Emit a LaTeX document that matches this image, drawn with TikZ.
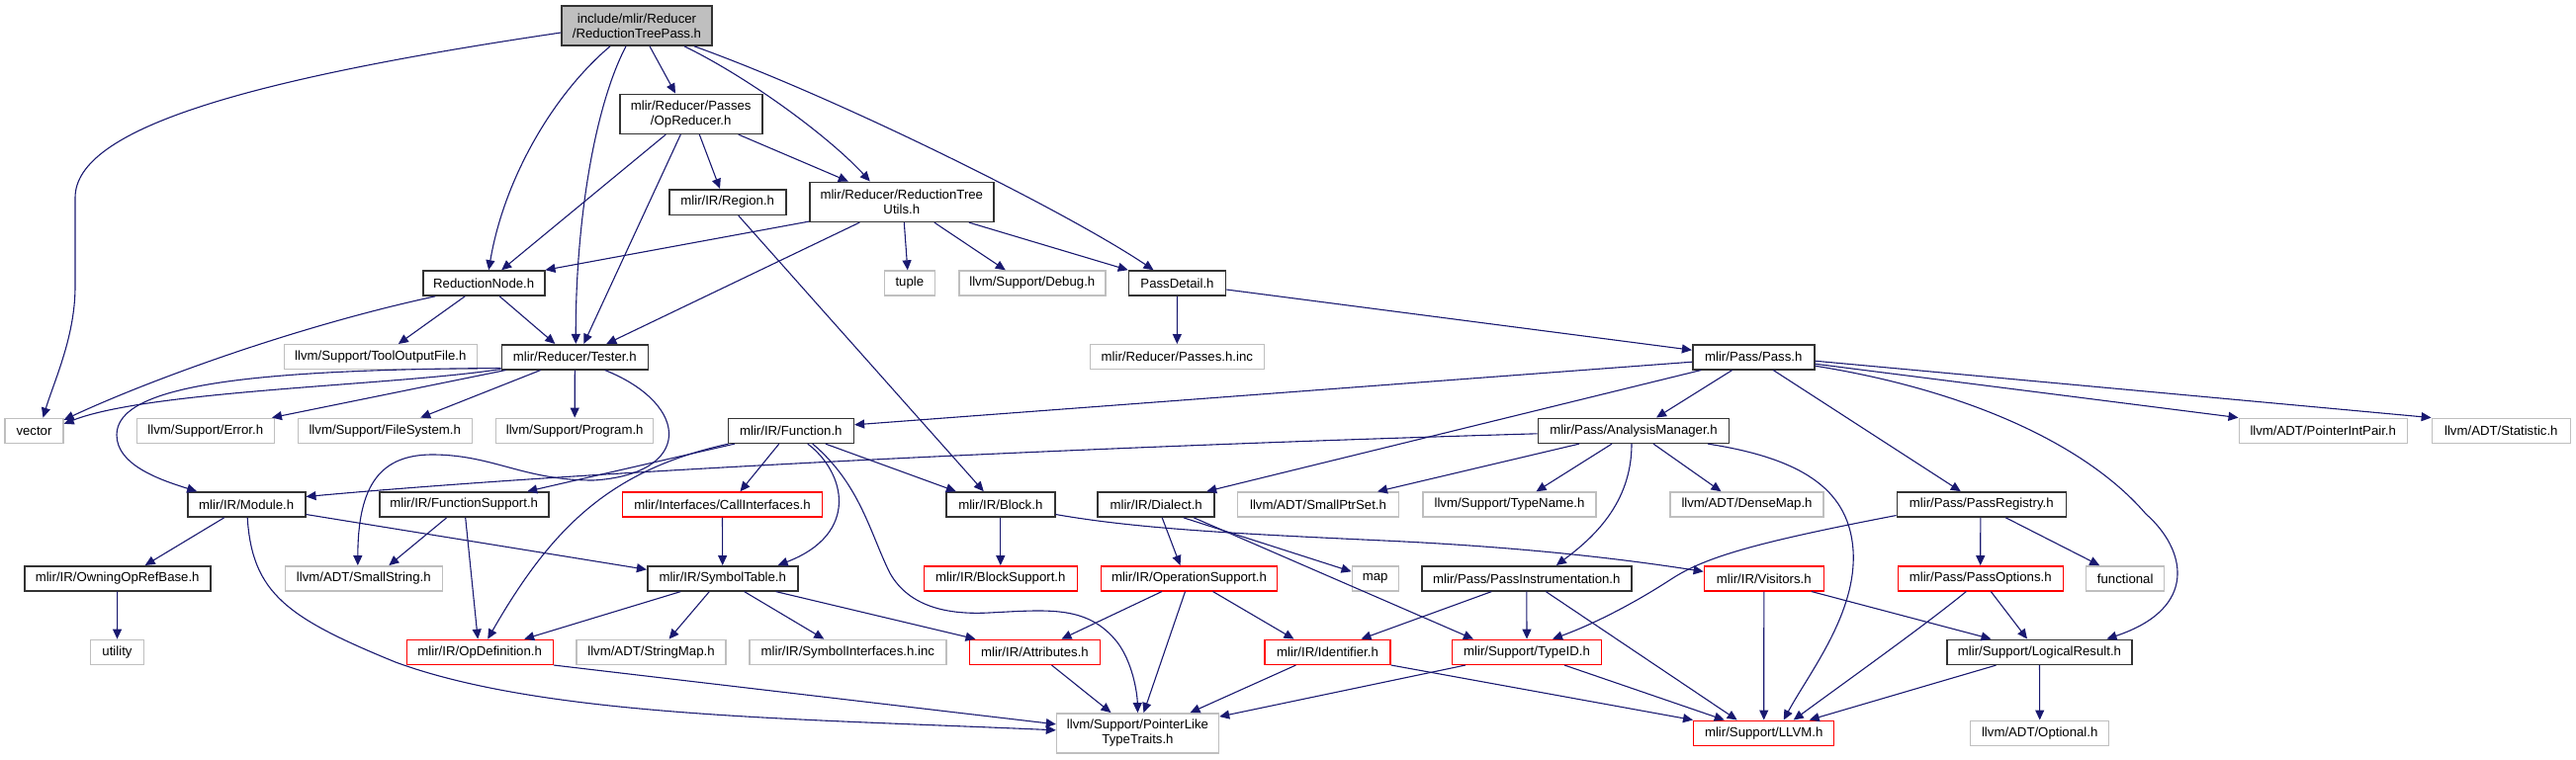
\documentclass[tikz,border=0pt]{standalone}
\usepackage{fontspec}
\setmainfont{Liberation Sans}
\usetikzlibrary{arrows.meta,calc}
\newcommand\dxfont{\fontsize{6.6}{7.5}\selectfont}
\definecolor{edgeblue}{RGB}{25,25,112}
\definecolor{boxgray}{RGB}{191,191,191}
\definecolor{rootgray}{RGB}{191,191,191}
\definecolor{boxred}{RGB}{255,0,0}
\tikzset{
  box/.style={draw, rectangle, inner sep=0pt, minimum height=12.5pt, font=\dxfont, text=black, fill=white},
  nb/.style={box, draw=black!80, line width=0.8pt},
  ng/.style={box, draw=boxgray, line width=0.7pt},
  nr/.style={box, draw=boxred, line width=0.7pt},
  nroot/.style={box, draw=black!80, line width=0.8pt, fill=rootgray},
  twol/.style={minimum height=20pt, align=center},
  wd/.style={minimum width=#1*0.5pt},
  ht/.style={minimum height=#1*0.5pt},
  dep/.style={draw=edgeblue, line width=0.55pt, -{Triangle[length=5pt,width=4.5pt]}}
}
\begin{document}
\begin{tikzpicture}[x=0.5pt,y=-0.5pt]
\useasboundingbox (0,0) rectangle (2605,768);
% nodes
\node[nroot,wd=152,twol] (root) at (644,26) {include/mlir/Reducer\\/ReductionTreePass.h};
\node[nb,wd=144,twol] (opred) at (698.7,115.3) {mlir/Reducer/Passes\\/OpReducer.h};
\node[nb,wd=118,ht=25.6] (region) at (735.7,204.5) {mlir/IR/Region.h};
\node[nb,wd=186,twol] (rtu) at (911.8,204.3) {mlir/Reducer/ReductionTree\\Utils.h};
\node[nb,wd=123] (rnode) at (489.2,286.5) {ReductionNode.h};
\node[nb,wd=148] (tester) at (581.3,361.2) {mlir/Reducer/Tester.h};
\node[ng,wd=195] (tof) at (384.8,361.2) {llvm/Support/ToolOutputFile.h};
\node[ng,wd=51] (tuple) at (919.8,286.5) {tuple};
\node[ng,wd=148] (debug) at (1043.8,286.5) {llvm/Support/Debug.h};
\node[nb,wd=98] (pdetail) at (1190.5,286.5) {PassDetail.h};
\node[ng,wd=176] (pinc) at (1190.3,361.2) {mlir/Reducer/Passes.h.inc};
\node[nb,wd=123] (pass) at (1773.2,361.2) {mlir/Pass/Pass.h};
\node[ng,wd=170] (pip) at (2349.2,435.8) {llvm/ADT/PointerIntPair.h};
\node[ng,wd=140] (stat) at (2529.3,435.8) {llvm/ADT/Statistic.h};
\node[ng,wd=59] (vector) at (34.5,435.8) {vector};
\node[ng,wd=139] (error) at (207.8,435.8) {llvm/Support/Error.h};
\node[ng,wd=176] (fs) at (389.2,435.8) {llvm/Support/FileSystem.h};
\node[ng,wd=159] (program) at (581.2,435.8) {llvm/Support/Program.h};
\node[nb,wd=127] (func) at (799.8,435.8) {mlir/IR/Function.h};
\node[nb,wd=193] (am) at (1652,435.8) {mlir/Pass/AnalysisManager.h};
\node[nb,wd=119] (module) at (249.2,510.5) {mlir/IR/Module.h};
\node[nb,wd=171] (fsup) at (469.2,510.5) {mlir/IR/FunctionSupport.h};
\node[nr,wd=202] (calli) at (730.5,510.5) {mlir/Interfaces/CallInterfaces.h};
\node[nb,wd=110] (block) at (1011.8,510.5) {mlir/IR/Block.h};
\node[nb,wd=118] (dialect) at (1169.2,510.5) {mlir/IR/Dialect.h};
\node[ng,wd=163] (sps) at (1333,510.5) {llvm/ADT/SmallPtrSet.h};
\node[ng,wd=175] (tname) at (1526.5,510.5) {llvm/Support/TypeName.h};
\node[ng,wd=155] (dmap) at (1766.5,510.5) {llvm/ADT/DenseMap.h};
\node[nb,wd=171] (preg) at (2003.8,510.5) {mlir/Pass/PassRegistry.h};
\node[nb,wd=188] (oorb) at (118.7,585.3) {mlir/IR/OwningOpRefBase.h};
\node[ng,wd=159] (sstr) at (367.8,585.3) {llvm/ADT/SmallString.h};
\node[nb,wd=152] (symt) at (730.7,585.3) {mlir/IR/SymbolTable.h};
\node[nr,wd=155] (bsup) at (1011.8,585.3) {mlir/IR/BlockSupport.h};
\node[nr,wd=178] (opsup) at (1202.5,585.3) {mlir/IR/OperationSupport.h};
\node[ng,wd=47] (map) at (1390.7,585.3) {map};
\node[nb,wd=212] (pinst) at (1543.8,585.3) {mlir/Pass/PassInstrumentation.h};
\node[nr,wd=121] (visit) at (1783.8,585.3) {mlir/IR/Visitors.h};
\node[nr,wd=167] (popt) at (2002.7,585.3) {mlir/Pass/PassOptions.h};
\node[ng,wd=79] (functional) at (2149.2,585.3) {functional};
\node[ng,wd=54] (utility) at (118.5,659.8) {utility};
\node[nr,wd=148] (opdef) at (485.2,659.8) {mlir/IR/OpDefinition.h};
\node[ng,wd=151] (smap) at (658.5,659.8) {llvm/ADT/StringMap.h};
\node[ng,wd=199] (syminc) at (857.3,659.8) {mlir/IR/SymbolInterfaces.h.inc};
\node[nr,wd=132] (attr) at (1046.5,659.8) {mlir/IR/Attributes.h};
\node[nr,wd=127] (ident) at (1342.5,659.8) {mlir/IR/Identifier.h};
\node[nr,wd=151] (typeid) at (1544,659.8) {mlir/Support/TypeID.h};
\node[nb,wd=187] (lres) at (2062.5,659.8) {mlir/Support/LogicalResult.h};
\node[ng,wd=164,twol] (pltt) at (1150.5,741.8) {llvm/Support/PointerLike\\TypeTraits.h};
\node[nr,wd=142] (llvm) at (1783.7,741.7) {mlir/Support/LLVM.h};
\node[ng,wd=140] (optional) at (2062.7,741.7) {llvm/ADT/Optional.h};
% root
\draw[dep] ($(root.west)+(0,7)$) .. controls (250,80) and (76,130) .. (76,200) -- (76,290) .. controls (76,340) and (55,385) .. ($(vector.north)+(9,0)$);
\draw[dep] ($(root.south)+(-27,0)$) .. controls (560,95) and (510,180) .. ($(rnode.north)+(5,0)$);
\draw[dep] ($(root.south)+(-11,0)$) .. controls (600,110) and (582,230) .. ($(tester.north)+(1,0)$);
\draw[dep] ($(root.south)+(13,0)$) -- ($(opred.north)+(-15.7,0)$);
\draw[dep] ($(root.south)+(48,0)$) .. controls (760,80) and (840,140) .. ($(rtu.north)+(-32,0)$);
\draw[dep] ($(root.south)+(58,0)$) .. controls (850,100) and (1080,215) .. ($(pdetail.north)+(-24,0)$);
% opreducer
\draw[dep] ($(opred.south)+(-25.4,0)$) -- ($(rnode.north)+(18,0)$);
\draw[dep] ($(opred.south)+(-10.4,0)$) -- ($(tester.north)+(9,0)$);
\draw[dep] ($(opred.south)+(8.6,0)$) -- ($(region.north)+(-7.7,0)$);
\draw[dep] ($(opred.south)+(48,0)$) -- ($(rtu.north)+(-54,0)$);
% reduction tree utils
\draw[dep] ($(rtu.south west)+(0,-1)$) -- (rnode.north east);
\draw[dep] ($(rtu.south)+(-42.5,0)$) -- ($(tester.north)+(32,0)$);
\draw[dep] ($(rtu.south)+(2.5,0)$) -- ($(tuple.north)+(-2,0)$);
\draw[dep] ($(rtu.south)+(33,0)$) -- ($(debug.north)+(-27,0)$);
\draw[dep] ($(rtu.south)+(68,0)$) -- (pdetail.north west);
% region
\draw[dep] ($(region.south)+(11,0)$) -- ($(block.north)+(-17,0)$);
% reduction node
\draw[dep] ($(rnode.south)+(-49,0)$) .. controls (300,330) and (150,385) .. ($(vector.east)+(0,-11)$);
\draw[dep] ($(rnode.south)+(-19,0)$) -- ($(tof.north)+(18,0)$);
\draw[dep] ($(rnode.south)+(16,0)$) -- ($(tester.north)+(-20,0)$);
% tester
\draw[dep] ($(tester.south west)+(0,-2)$) .. controls (250,374) and (118,390) .. (118,440) .. controls (118,470) and (160,485) .. ($(module.north)+(-50,0)$);
\draw[dep] ($(tester.south west)+(0,-1)$) .. controls (400,390) and (150,395) .. ($(vector.east)+(0,-7)$);
\draw[dep] ($(tester.south west)+(5,0)$) -- ($(error.north east)+(-3,0)$);
\draw[dep] ($(tester.south)+(-34.6,0)$) -- ($(fs.north)+(36,0)$);
\draw[dep] (tester.south) -- (program.north);
\draw[dep] ($(tester.south)+(30.4,0)$) .. controls (700,410) and (700,480) .. (600,486) .. controls (530,486) and (500,461) .. (440,460) .. controls (385,459) and (362,490) .. ($(sstr.north)+(-6,0)$);
% function
\draw[dep] ($(func.south)+(-57,0)$) -- ($(fsup.north)+(64,0)$);
\draw[dep] ($(func.south west)+(1,0)$) .. controls (620,475) and (560,530) .. ($(opdef.north)+(8,0)$);
\draw[dep] ($(func.south)+(-12,0)$) -- ($(calli.north)+(18,0)$);
\draw[dep] ($(func.south)+(17,0)$) .. controls (855,478) and (870,540) .. ($(symt.north)+(56,0)$);
\draw[dep] ($(func.south)+(35,0)$) -- ($(block.north)+(-45,0)$);
\draw[dep] ($(func.south)+(22,0)$) .. controls (870,490) and (880,540) .. (900,580) .. controls (920,615) and (960,622) .. (1000,620) .. controls (1060,617) and (1100,612) .. (1130,650) .. controls (1145,670) and (1150,700) .. (pltt.north);
% pass
\draw[dep] ($(pass.west)+(0,5)$) -- ($(func.east)+(0,-6)$);
\draw[dep] ($(pass.south)+(-53,0)$) -- ($(dialect.north)+(51,0)$);
\draw[dep] ($(pass.south)+(-21.5,0)$) -- ($(am.north)+(23,0)$);
\draw[dep] ($(pass.south)+(20,0)$) -- ($(preg.north)+(-21,0)$);
\draw[dep] ($(pass.east)+(0,9)$) .. controls (1990,395) and (2110,450) .. (2170,520) .. controls (2210,555) and (2225,615) .. ($(lres.north)+(68,0)$);
\draw[dep] ($(pass.east)+(0,7)$) -- (pip.north west);
\draw[dep] ($(pass.east)+(0,4)$) -- (stat.north west);
% pass detail
\draw[dep] (pdetail.south) -- (pinc.north);
\draw[dep] ($(pdetail.east)+(0,6.5)$) -- ($(pass.west)+(0,-7)$);
% analysis manager
\draw[dep] ($(am.west)+(0,3)$) .. controls (1100,452) and (600,476) .. ($(module.east)+(0,-8)$);
\draw[dep] ($(am.south)+(-55,0)$) -- ($(sps.north)+(60,0)$);
\draw[dep] ($(am.south)+(-22,0)$) -- ($(tname.north)+(27,0)$);
\draw[dep] ($(am.south)+(-2,0)$) .. controls (1650,510) and (1610,545) .. ($(pinst.north)+(30,0)$);
\draw[dep] ($(am.south)+(20,0)$) -- ($(dmap.north)+(-26,0)$);
\draw[dep] ($(am.south)+(75,0)$) .. controls (1830,465) and (1870,500) .. (1874,556.7) .. controls (1878,620) and (1830,680) .. ($(llvm.north)+(20,0)$);
% dialect
\draw[dep] ($(dialect.south)+(6,0)$) -- ($(opsup.north)+(-9,0)$);
\draw[dep] ($(dialect.south)+(27.5,0)$) -- ($(map.west)+(0,-7)$);
\draw[dep] ($(dialect.south)+(38,0)$) -- ($(typeid.north)+(-54,0)$);
% block
\draw[dep] ($(block.east)+(0,10)$) .. controls (1150,535) and (1250,540) .. (1400,547) .. controls (1550,554) and (1650,567) .. ($(visit.west)+(0,-7)$);
\draw[dep] (block.south) -- (bsup.north);
% operation support
\draw[dep] ($(opsup.south)+(-27.5,0)$) -- ($(attr.north)+(27,0)$);
\draw[dep] ($(opsup.south)+(-4,0)$) -- ($(pltt.north)+(6,0)$);
\draw[dep] ($(opsup.south)+(24,0)$) -- ($(ident.north)+(-34,0)$);
% attributes, identifier, typeid
\draw[dep] ($(attr.south)+(17,0)$) -- ($(pltt.north)+(-27,0)$);
\draw[dep] ($(ident.south)+(-32,0)$) -- ($(pltt.north)+(53,0)$);
\draw[dep] ($(typeid.south)+(-62,0)$) -- ($(pltt.north east)+(0,4)$);
\draw[dep] (ident.south east) -- (llvm.north west);
\draw[dep] ($(typeid.south)+(38,0)$) -- ($(llvm.north)+(-40,0)$);
% pass instrumentation
\draw[dep] ($(pinst.south)+(-35.5,0)$) -- ($(ident.north)+(34,0)$);
\draw[dep] (pinst.south) -- (typeid.north);
\draw[dep] ($(pinst.south)+(19.5,0)$) -- ($(llvm.north)+(-27,0)$);
% pass registry
\draw[dep] ($(preg.west)+(0,11)$) .. controls (1780,548) and (1725,563) .. (1690,586) .. controls (1650,612) and (1610,632) .. ($(typeid.north)+(26,0)$);
\draw[dep] ($(preg.south)+(-1,0)$) -- (popt.north);
\draw[dep] ($(preg.south)+(24.5,0)$) -- ($(functional.north)+(-26,0)$);
% visitors
\draw[dep] (visit.south) -- (llvm.north);
\draw[dep] ($(visit.south)+(48,0)$) -- ($(lres.north)+(-49,0)$);
% pass options
\draw[dep] ($(popt.south)+(-14.4,0)$) .. controls (1950,630) and (1880,680) .. ($(llvm.north)+(30,0)$);
\draw[dep] ($(popt.south)+(10.6,0)$) -- ($(lres.north)+(-12.5,0)$);
% logical result
\draw[dep] ($(lres.south)+(-44,0)$) -- ($(llvm.north)+(46,0)$);
\draw[dep] (lres.south) -- (optional.north);
% module
\draw[dep] ($(module.south)+(-22.5,0)$) -- ($(oorb.north)+(28,0)$);
\draw[dep] ($(module.east)+(0,10)$) -- ($(symt.west)+(0,-9)$);
\draw[dep] ($(module.south)+(1,0)$) .. controls (255,600) and (290,625) .. (400,670) .. controls (550,725) and (800,727) .. ($(pltt.west)+(0,-3)$);
% op definition
\draw[dep] (opdef.south east) -- ($(pltt.west)+(0,-9)$);
% owning op ref base
\draw[dep] (oorb.south) -- (utility.north);
% function support
\draw[dep] ($(fsup.south)+(-17.5,0)$) -- ($(sstr.north)+(25.5,0)$);
\draw[dep] ($(fsup.south)+(1.5,0)$) -- ($(opdef.north)+(-2,0)$);
% call interfaces
\draw[dep] (calli.south) -- (symt.north);
% symbol table
\draw[dep] ($(symt.south)+(-42.4,0)$) -- ($(opdef.north)+(45,0)$);
\draw[dep] ($(symt.south)+(-13.4,0)$) -- ($(smap.north)+(18,0)$);
\draw[dep] ($(symt.south)+(22,0)$) -- ($(syminc.north)+(-24,0)$);
\draw[dep] ($(symt.south)+(54,0)$) -- ($(attr.north)+(-60,0)$);
\end{tikzpicture}
\end{document}
